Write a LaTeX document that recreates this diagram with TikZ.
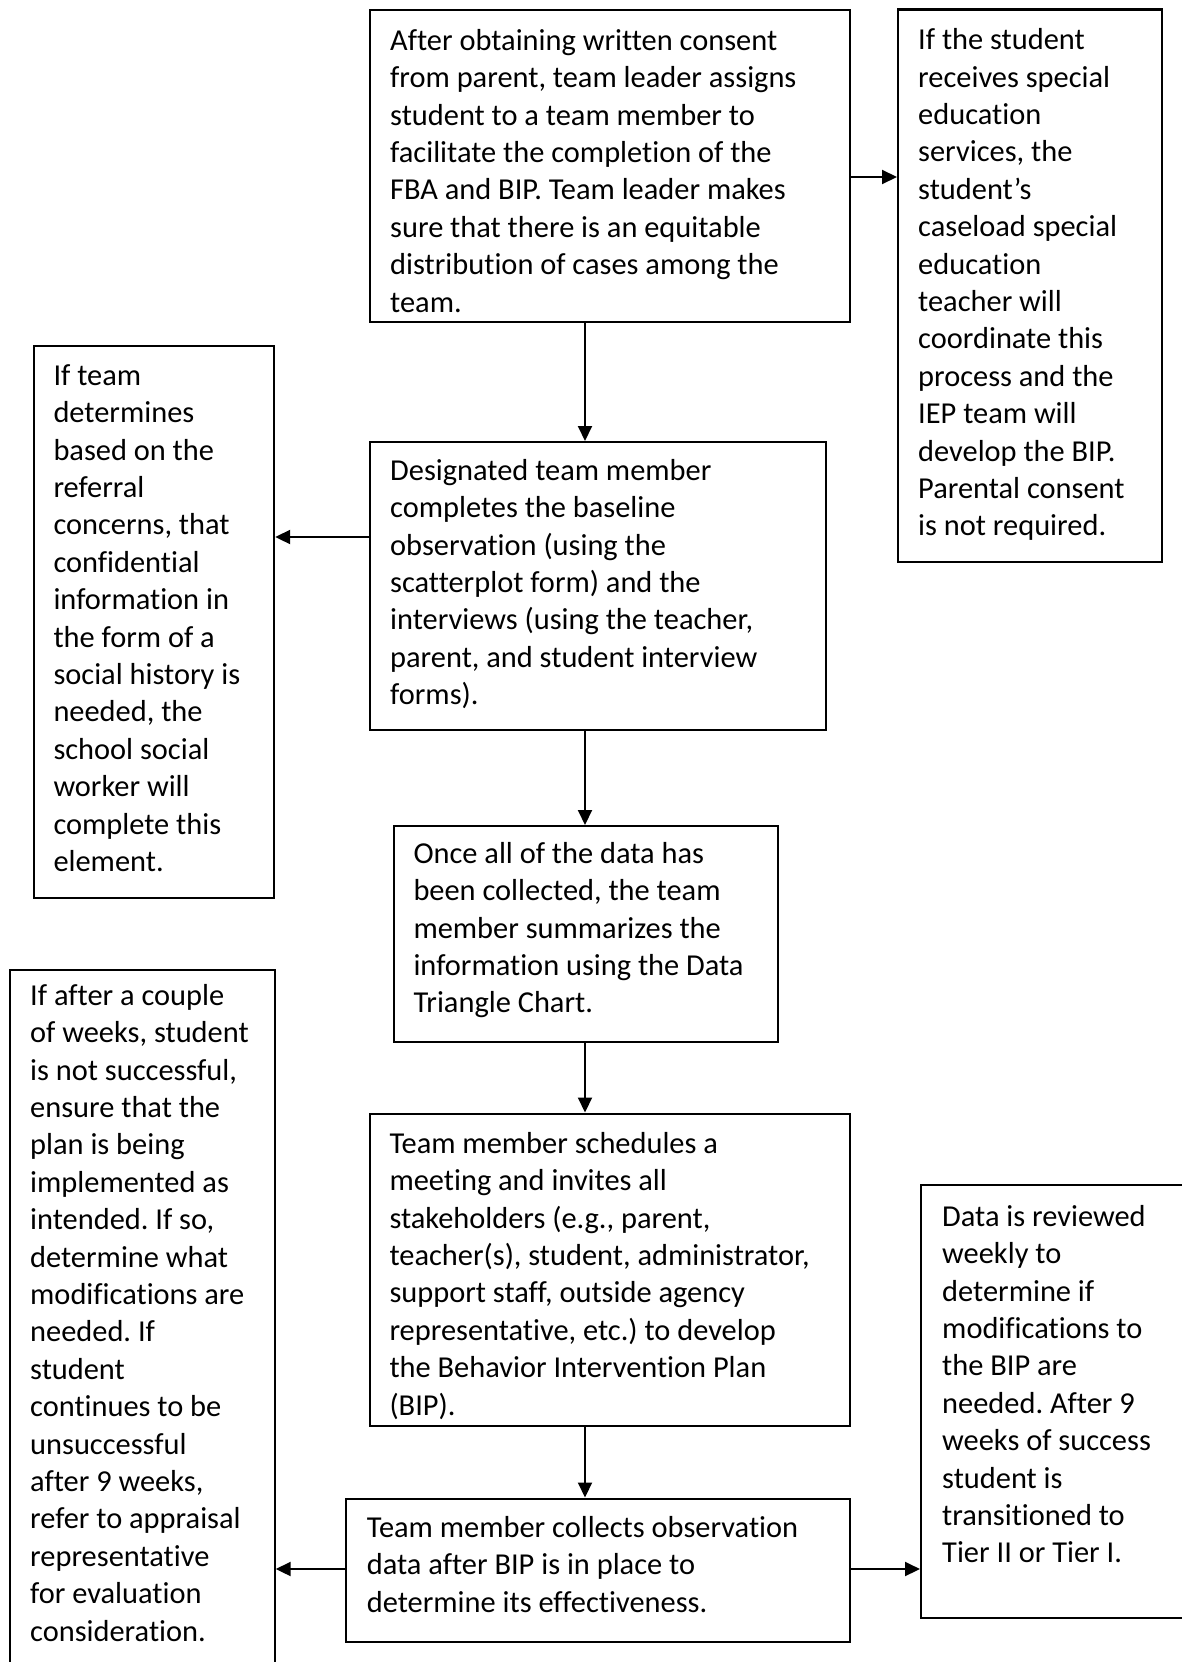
\documentclass[tikz,border=0pt]{standalone}
\usepackage{fontspec}
\setmainfont[Ligatures=NoCommon]{Carlito}
\frenchspacing
\usetikzlibrary{arrows.meta}
\begin{document}
\begin{tikzpicture}[x=1pt,y=-1pt,
  box/.style={draw=black,line width=2.2pt,inner sep=0pt,anchor=north west,fill=none},
  txt/.style={anchor=north west,inner sep=0pt,align=left,
    font={\fontsize{30.4}{37.4}\selectfont}},
  arr/.style={line width=2pt,-{Triangle[length=15pt,width=14pt]}}]
\useasboundingbox[fill=white] (0,0) rectangle (1181,1662);
% boxes
\node[box,minimum width=480pt,minimum height=312pt] (b1) at (369,9) {};
\node[box,minimum width=264pt,minimum height=552pt] (b2) at (897,8.5) {};
\node[box,minimum width=240.5pt,minimum height=552pt] (b3) at (32.5,345) {};
\node[box,minimum width=456pt,minimum height=288pt] (b4) at (369,441) {};
\node[box,minimum width=384.5pt,minimum height=216pt] (b5) at (392.5,825) {};
\node[box,minimum width=265pt,minimum height=706pt] (b6) at (8.5,969) {};
\node[box,minimum width=480.5pt,minimum height=312pt] (b7) at (368.5,1112.5) {};
\node[box,minimum width=504.5pt,minimum height=143.5pt] (b8) at (344.5,1497.5) {};
\node[box,minimum width=280pt,minimum height=433pt] (b9) at (920,1184) {};
% texts
\node[txt] (t1) at (390,24) {\rule{0pt}{26pt}After obtaining written consent\\from parent, team leader assigns\\student to a team member to\\facilitate the completion of the\\FBA and BIP. Team leader makes\\sure that there is an equitable\\distribution of cases among the\\team.};
\node[txt] (t2) at (918,23.5) {\rule{0pt}{26pt}If the student\\receives special\\education\\services, the\\student’s\\caseload special\\education\\teacher will\\coordinate this\\process and the\\IEP team will\\develop the BIP.\\Parental consent\\is not required.};
\node[txt] (t3) at (53.3,359) {\rule{0pt}{26pt}If team\\determines\\based on the\\referral\\concerns, that\\confidential\\information in\\the form of a\\social history is\\needed, the\\school social\\worker will\\complete this\\element.};
\node[txt] (t4) at (390,454) {\rule{0pt}{26pt}Designated team member\\completes the baseline\\observation (using the\\scatterplot form) and the\\interviews (using the teacher,\\parent, and student interview\\forms).};
\node[txt] (t5) at (413.3,837) {\rule{0pt}{26pt}Once all of the data has\\been collected, the team\\member summarizes the\\information using the Data\\Triangle Chart.};
\node[txt] (t6) at (30,979) {\rule{0pt}{26pt}If after a couple\\of weeks, student\\is not successful,\\ensure that the\\plan is being\\implemented as\\intended. If so,\\determine what\\modifications are\\needed. If\\student\\continues to be\\unsuccessful\\after 9 weeks,\\refer to appraisal\\representative\\for evaluation\\consideration.};
\node[txt] (t7) at (389.3,1127) {\rule{0pt}{26pt}Team member schedules a\\meeting and invites all\\stakeholders (e.g., parent,\\teacher(s), student, administrator,\\support staff, outside agency\\representative, etc.) to develop\\the Behavior Intervention Plan\\(BIP).};
\node[txt] (t8) at (366.7,1511) {\rule{0pt}{26pt}Team member collects observation\\data after BIP is in place to\\determine its effectiveness.};
\node[txt] (t9) at (942,1200) {\rule{0pt}{26pt}Data is reviewed\\weekly to\\determine if\\modifications to\\the BIP are\\needed. After 9\\weeks of success\\student is\\transitioned to\\Tier II or Tier I.};
% guide coordinates
\coordinate (col) at (585,0);
\coordinate (r1) at (0,177);
\coordinate (r2) at (0,537);
\coordinate (r3) at (0,1569);
% connectors
\draw[arr] (b1.east |- r1) -- (b2.west |- r1);
\draw[arr] (b1.south -| col) -- (b4.north -| col);
\draw[arr] (b4.west |- r2) -- (b3.east |- r2);
\draw[arr] (b4.south -| col) -- (b5.north -| col);
\draw[arr] (b5.south -| col) -- (b7.north -| col);
\draw[arr] (b7.south -| col) -- (b8.north -| col);
\draw[arr] (b8.west |- r3) -- (b6.east |- r3);
\draw[arr] (b8.east |- r3) -- (b9.west |- r3);
\end{tikzpicture}
\end{document}
